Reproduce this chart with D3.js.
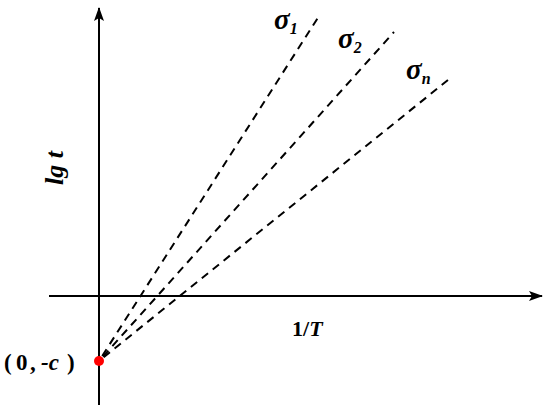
<!DOCTYPE html>
<html>
<head>
<meta charset="utf-8">
<script src="https://cdn.jsdelivr.net/npm/d3@7"></script>
<style>
  body { margin: 0; background: #fff; }
  text { font-family: "Liberation Serif", "Times New Roman", serif; font-weight: bold; }
</style>
</head>
<body>
<div id="chart"></div>
<script>
// schematic: lg t vs 1/T, lines through (0, -c)
const seriesNames = ['1', '2', 'n'];          // sigma subscripts
const lineEndX = [2.20, 2.95, 3.49];          // 1/T at top end of each line
const lineEndY = [2.80, 2.64, 2.16];          // lg t at top end of each line
const interceptC = 0.65;                      // the common point (0, -c)

const width = 550, height = 415;

const x = d3.scaleLinear().domain([-0.5, 4.43]).range([49, 542]);
const y = d3.scaleLinear().domain([-1.09, 2.88]).range([405, 8]);

const svg = d3.select('#chart').append('svg')
  .attr('width', width)
  .attr('height', height);

svg.append('defs').append('marker')
  .attr('id', 'arrow')
  .attr('viewBox', '0 0 14 10')
  .attr('refX', 13)
  .attr('refY', 5)
  .attr('markerWidth', 14)
  .attr('markerHeight', 10)
  .attr('markerUnits', 'userSpaceOnUse')
  .attr('orient', 'auto')
  .append('path')
    .attr('d', 'M0,0 L14,5 L0,10 L3,5 Z')
    .attr('fill', '#000');

// x axis
svg.append('line')
  .attr('x1', x(-0.5)).attr('y1', y(0))
  .attr('x2', x(4.43)).attr('y2', y(0))
  .attr('stroke', '#000')
  .attr('stroke-width', 2)
  .attr('marker-end', 'url(#arrow)');

// y axis
svg.append('line')
  .attr('x1', x(0)).attr('y1', y(-1.09))
  .attr('x2', x(0)).attr('y2', y(2.88))
  .attr('stroke', '#000')
  .attr('stroke-width', 2)
  .attr('marker-end', 'url(#arrow)');

const lines = seriesNames.map((name, i) => ({
  name,
  pts: [[0, -interceptC], [lineEndX[i], lineEndY[i]]]
}));

const line = d3.line().x(d => x(d[0])).y(d => y(d[1]));

svg.selectAll('.sigma-line')
  .data(lines)
  .enter().append('path')
    .attr('class', 'sigma-line')
    .attr('d', d => line(d.pts))
    .attr('fill', 'none')
    .attr('stroke', '#000')
    .attr('stroke-width', 2)
    .attr('stroke-dasharray', '8,6')
    .attr('stroke-dashoffset', -6);

// label offsets from the top end of each line (px)
const labelOffsets = [[-45, 13], [-56, 16], [-42, -1]];

const labels = svg.selectAll('.sigma-label')
  .data(lines)
  .enter().append('text')
    .attr('class', 'sigma-label')
    .attr('x', (d, i) => x(d.pts[1][0]) + labelOffsets[i][0])
    .attr('y', (d, i) => y(d.pts[1][1]) + labelOffsets[i][1])
    .style('font-style', 'italic')
    .style('font-size', '29px');
labels.append('tspan').text('σ');
labels.append('tspan')
  .attr('dy', 5)
  .style('font-size', '16px')
  .text(d => d.name);

// the common point
svg.append('circle')
  .attr('cx', x(0))
  .attr('cy', y(-interceptC))
  .attr('r', 5)
  .attr('fill', '#f00');

// axis titles
const xTitle = svg.append('text')
  .attr('x', 292)
  .attr('y', 336)
  .style('font-size', '22px');
xTitle.append('tspan').text('1/');
xTitle.append('tspan').style('font-style', 'italic').text('T');

svg.append('text')
  .attr('transform', 'translate(63,168) rotate(-90)')
  .attr('text-anchor', 'middle')
  .style('font-style', 'italic')
  .style('font-size', '26px')
  .text('lg t');

const pointLabel = svg.append('text')
  .attr('y', 370)
  .style('font-size', '23px');
pointLabel.append('tspan').attr('x', 4).text('(');
pointLabel.append('tspan').attr('x', 16).text('0');
pointLabel.append('tspan').attr('x', 30).text(',');
pointLabel.append('tspan').attr('x', 41).style('font-style', 'italic').text('-c');
pointLabel.append('tspan').attr('x', 67).text(')');
</script>
</body>
</html>
